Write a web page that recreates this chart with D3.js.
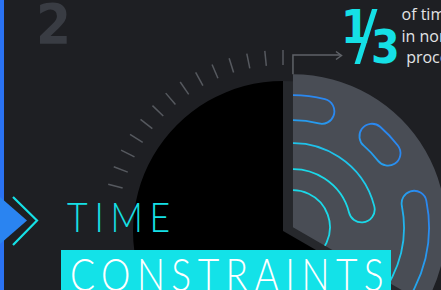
<!DOCTYPE html>
<html>
<head>
<meta charset="utf-8">
<script src="https://cdn.jsdelivr.net/npm/d3@7"></script>
<style>
  html, body { margin: 0; padding: 0; background: #1e1f23; overflow: hidden; }
  svg { display: block; }
</style>
</head>
<body>
<svg id="chart" width="441" height="290"></svg>
<script>
// chart data
const sliceLabels = ["non-productive", "other"];
const sliceValues = [1 / 3, 2 / 3];
const fractionParts = ["1", "3"];
const calloutLines = ["of time spent", "in non-productive", " processes"];
const sectionNumber = "2";
const titleWords = ["TIME", "CONSTRAINTS"];

// dial ticks round the dark slice
const tickCount = 14;
const tickSpanDeg = 75;

// rounded bands drawn inside the highlighted slice (radius px, angle deg)
const bandInner = [107, 108, 111, 58, 58, 37];
const bandOuter = [132, 133, 136, 84, 84, 37];
const bandStart = [-20, 35, 73, -20, 114, -20];
const bandEnd = [20, 58, 160, 86, 160, 160];

const W = 441, H = 290;
const cx = 283, cy = 231, R = 150, Rhi = 153;
const explode = 11.5;
const cyan = "#15e0e6";

const svg = d3.select("#chart");
const defs = svg.append("defs");

svg.append("rect").attr("width", W).attr("height", H).attr("fill", "#1e1f23");

// section number
svg.append("text")
  .attr("x", 36).attr("y", 43)
  .attr("font-family", "'Liberation Sans Narrow', 'DejaVu Sans Condensed', sans-serif")
  .attr("font-weight", 700).attr("font-size", 56)
  .attr("fill", "#393c43")
  .text(sectionNumber);

// ticks
const tickAngle = d3.scaleLinear().domain([0, tickCount - 1]).range([0, -tickSpanDeg]);
svg.append("g").selectAll("line")
  .data(d3.range(tickCount))
  .enter().append("line")
  .attr("x1", i => cx + 166 * Math.sin(tickAngle(i) * Math.PI / 180))
  .attr("y1", i => cy - 166 * Math.cos(tickAngle(i) * Math.PI / 180))
  .attr("x2", i => cx + 181 * Math.sin(tickAngle(i) * Math.PI / 180))
  .attr("y2", i => cy - 181 * Math.cos(tickAngle(i) * Math.PI / 180))
  .attr("stroke", "#56595f").attr("stroke-width", 1.5);

// pie
const pie = d3.pie().sort(null).value(d => d);
const arcs = pie(sliceValues);
const arc = d3.arc().innerRadius(0).outerRadius(R);
const arcHi = d3.arc().innerRadius(0).outerRadius(Rhi);

const hi = arcs[0];
const mid = (hi.startAngle + hi.endAngle) / 2;
const gx = cx + Math.sin(mid) * explode;
const gy = cy - Math.cos(mid) * explode + 2;

// side of the lifted slice
svg.append("path")
  .attr("transform", `translate(${cx},${cy})`)
  .attr("d", arc(hi))
  .attr("fill", "#26282c");

svg.append("path")
  .attr("transform", `translate(${cx},${cy})`)
  .attr("d", arc(arcs[1]))
  .attr("fill", "#000");

const gHi = svg.append("g").attr("transform", `translate(${gx},${gy})`);
gHi.append("path").attr("d", arcHi(hi)).attr("fill", "#494d55");

defs.append("clipPath").attr("id", "hiClip")
  .append("path").attr("d", arcHi(hi));

const grad = defs.append("radialGradient")
  .attr("id", "bandGrad")
  .attr("gradientUnits", "userSpaceOnUse")
  .attr("cx", -13).attr("cy", 35).attr("r", 180);
grad.append("stop").attr("offset", 0.6).attr("stop-color", "#1ad8e8");
grad.append("stop").attr("offset", 0.86).attr("stop-color", "#2a88f0");

gHi.append("g").attr("clip-path", "url(#hiClip)")
  .selectAll("path")
  .data(d3.range(bandInner.length))
  .enter().append("path")
  .attr("d", i => d3.arc()
    .cornerRadius((bandOuter[i] - bandInner[i]) / 2)({
      innerRadius: bandInner[i],
      outerRadius: bandOuter[i],
      startAngle: bandStart[i] * Math.PI / 180,
      endAngle: bandEnd[i] * Math.PI / 180
    }))
  .attr("fill", "none")
  .attr("stroke", "url(#bandGrad)")
  .attr("stroke-width", 1.8);

// connector to the callout
const topY = gy - Rhi;
svg.append("path")
  .attr("d", `M${gx},${topY}V55H341`)
  .attr("fill", "none").attr("stroke", "#5f6268").attr("stroke-width", 1.5);
svg.append("path")
  .attr("d", "M336,51.5L341.5,55.5L336,59.5")
  .attr("fill", "none").attr("stroke", "#5f6268").attr("stroke-width", 1.5);

// fraction
const fracFont = "'Liberation Sans Narrow', 'DejaVu Sans Condensed', sans-serif";
svg.append("text")
  .attr("x", 341).attr("y", 43)
  .attr("font-family", fracFont).attr("font-weight", 700).attr("font-size", 46)
  .attr("fill", cyan).text(fractionParts[0]);
svg.append("path")
  .attr("d", "M372,9L377.5,9L360,64L354.5,64Z")
  .attr("fill", cyan);
svg.append("text")
  .attr("x", 371).attr("y", 63)
  .attr("font-family", fracFont).attr("font-weight", 700).attr("font-size", 46)
  .attr("fill", cyan).text(fractionParts[1]);

// callout text
svg.append("g").selectAll("text")
  .data(calloutLines)
  .enter().append("text")
  .attr("x", (d, i) => i === 2 ? 402 : 401.5)
  .attr("y", (d, i) => 20 + i * 21.5)
  .attr("font-family", "'Open Sans', Lato, sans-serif")
  .attr("font-size", 16)
  .attr("fill", "#e2e3e5")
  .attr("xml:space", "preserve")
  .style("white-space", "pre")
  .text(d => d);

// left accent
svg.append("rect").attr("x", 0).attr("y", 0).attr("width", 4).attr("height", H).attr("fill", "#2a72f3");
svg.append("path").attr("d", "M0,197L27,220.5L0,244Z").attr("fill", "#2a84f1");
svg.append("path").attr("d", "M13,197L37,220.5L13,245")
  .attr("fill", "none").attr("stroke", cyan).attr("stroke-width", 2.2);

// title
svg.append("text")
  .attr("x", 67).attr("y", 232)
  .attr("font-family", "Lato, 'Open Sans', sans-serif")
  .attr("font-weight", 300).attr("font-size", 42)
  .attr("letter-spacing", 8)
  .attr("textLength", 110).attr("lengthAdjust", "spacingAndGlyphs")
  .attr("fill", cyan)
  .text(titleWords[0]);

svg.append("rect").attr("x", 61).attr("y", 250).attr("width", 330).attr("height", 45).attr("fill", "#13e2e8");
svg.append("text")
  .attr("x", 70).attr("y", 291)
  .attr("font-family", "Lato, 'Open Sans', sans-serif")
  .attr("font-weight", 300).attr("font-size", 46)
  .attr("letter-spacing", 8)
  .attr("textLength", 320).attr("lengthAdjust", "spacingAndGlyphs")
  .attr("fill", "#ffffff")
  .text(titleWords[1]);
</script>
</body>
</html>
